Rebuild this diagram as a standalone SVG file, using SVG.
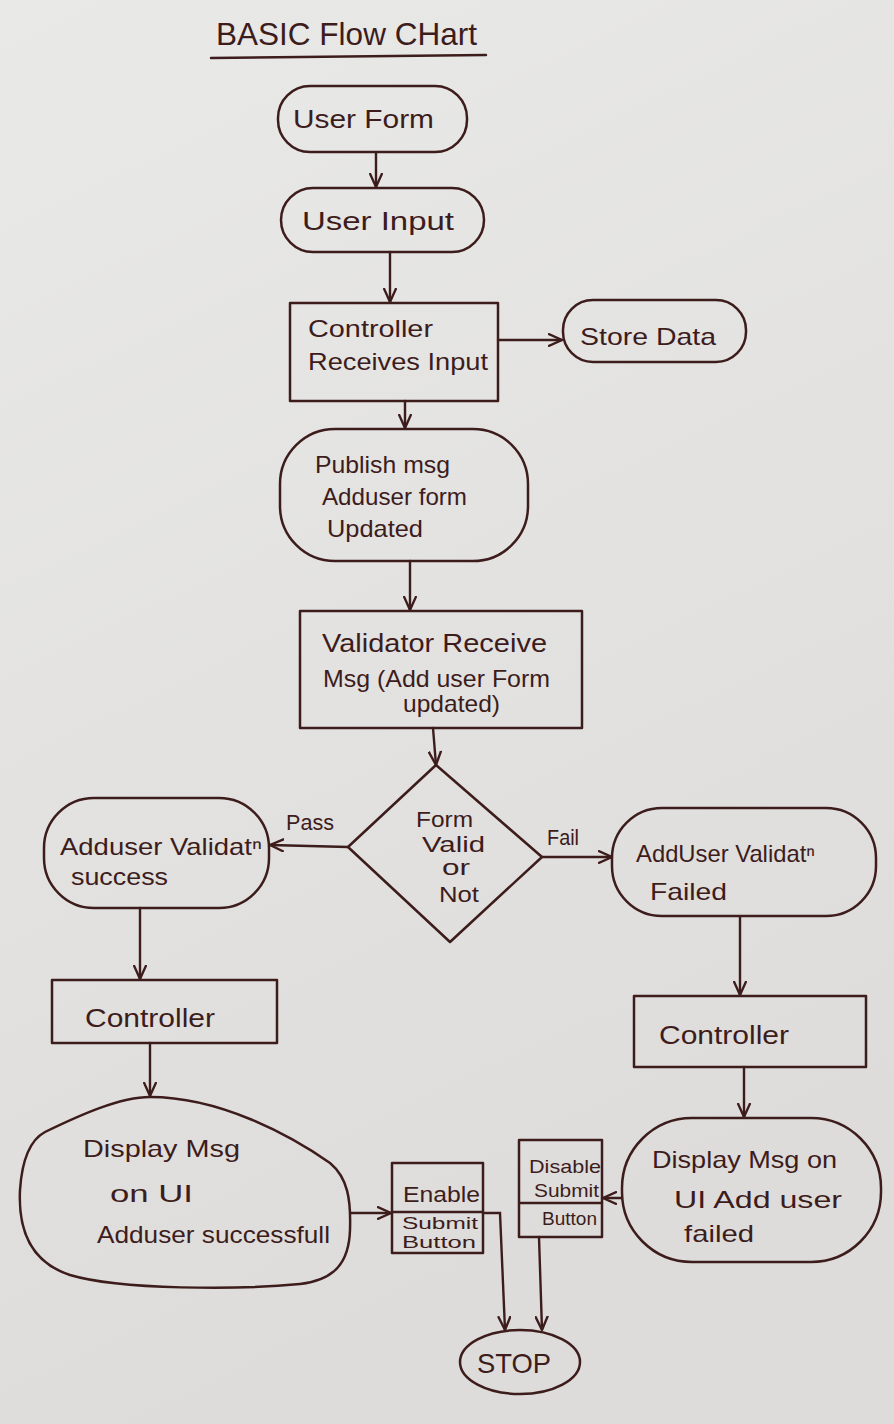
<svg xmlns="http://www.w3.org/2000/svg" width="894" height="1424" viewBox="0 0 894 1424">
<defs>
<linearGradient id="paper" x1="0" y1="0" x2="0.3" y2="1">
<stop offset="0" stop-color="#e9e9e7"/>
<stop offset="1" stop-color="#dddcda"/>
</linearGradient>
<marker id="arr" viewBox="0 0 10 10" refX="10" refY="5" markerWidth="14" markerHeight="14" markerUnits="userSpaceOnUse" orient="auto">
<path d="M0,0.5 L10,5 L0,9.5" fill="none" stroke="#3d1c1c" stroke-width="1.7" stroke-linejoin="miter"/>
</marker>
</defs>
<style>
.s{fill:none;stroke:#3d1c1c;stroke-width:2.5;stroke-linejoin:round;stroke-linecap:round}
.c{fill:none;stroke:#3d1c1c;stroke-width:2.4;stroke-linecap:round;marker-end:url(#arr)}
.l{fill:none;stroke:#3d1c1c;stroke-width:2.4;stroke-linecap:round}
text{font-family:"Liberation Sans","DejaVu Sans",sans-serif;fill:#3d1c1c}
.t24{font-size:24px}
.t26{font-size:26px}
.t22{font-size:22px}
.t19{font-size:19px}
.t16{font-size:16px}
</style>
<rect x="0" y="0" width="894" height="1424" fill="url(#paper)"/>

<g id="title">
<text x="216" y="45" font-size="32" textLength="261" lengthAdjust="spacingAndGlyphs">BASIC Flow CHart</text>
<path class="l" d="M211,58 L486,55"/>
</g>

<g id="connectors">
<path class="c" d="M376,153 L376,187"/>
<path class="c" d="M390,252 L390,302"/>
<path class="c" d="M498,340 L562,340"/>
<path class="c" d="M405,401 L405,428"/>
<path class="c" d="M410,561 L410,610"/>
<path class="c" d="M433,728 L436,765"/>
<path class="c" d="M348,847 L270,845"/>
<path class="c" d="M542,857 L612,857"/>
<path class="c" d="M140,908 L140,979"/>
<path class="c" d="M150,1043 L150,1096"/>
<path class="c" d="M350,1213 L391,1213"/>
<path class="c" d="M483,1213 L500,1213 L505,1330"/>
<path class="c" d="M740,917 L740,995"/>
<path class="c" d="M744,1067 L744,1117"/>
<path class="c" d="M622,1198 L603,1198"/>
<path class="c" d="M539,1237 L542,1330"/>
<text class="t22" x="286" y="830" textLength="48" lengthAdjust="spacingAndGlyphs">Pass</text>
<text class="t22" x="547" y="845" textLength="32" lengthAdjust="spacingAndGlyphs">Fail</text>
</g>

<g id="user-form">
<rect class="s" x="278" y="86" width="189" height="66" rx="32"/>
<text class="t26" x="293" y="128" textLength="141" lengthAdjust="spacingAndGlyphs">User Form</text>
</g>

<g id="user-input">
<rect class="s" x="281" y="188" width="203" height="64" rx="32"/>
<text class="t26" x="302" y="230" textLength="152" lengthAdjust="spacingAndGlyphs">User Input</text>
</g>

<g id="controller-receives">
<rect class="s" x="290" y="303" width="208" height="98"/>
<text class="t24" x="308" y="337" textLength="125" lengthAdjust="spacingAndGlyphs">Controller</text>
<text class="t24" x="308" y="370" textLength="180" lengthAdjust="spacingAndGlyphs">Receives Input</text>
</g>

<g id="store-data">
<rect class="s" x="563" y="300" width="183" height="62" rx="30"/>
<text class="t24" x="580" y="345" textLength="136" lengthAdjust="spacingAndGlyphs">Store Data</text>
</g>

<g id="publish-msg">
<rect class="s" x="280" y="429" width="248" height="132" rx="55"/>
<text class="t24" x="315" y="473" textLength="135" lengthAdjust="spacingAndGlyphs">Publish msg</text>
<text class="t24" x="322" y="505" textLength="145" lengthAdjust="spacingAndGlyphs">Adduser form</text>
<text class="t24" x="327" y="537" textLength="96" lengthAdjust="spacingAndGlyphs">Updated</text>
</g>

<g id="validator">
<rect class="s" x="300" y="611" width="282" height="117"/>
<text class="t26" x="322" y="652" textLength="225" lengthAdjust="spacingAndGlyphs">Validator Receive</text>
<text class="t24" x="323" y="687" textLength="227" lengthAdjust="spacingAndGlyphs">Msg (Add user Form</text>
<text class="t24" x="403" y="712" textLength="97" lengthAdjust="spacingAndGlyphs">updated)</text>
</g>

<g id="decision">
<polygon class="s" points="436,765 542,857 450,942 348,847"/>
<text class="t22" x="416" y="827" textLength="57" lengthAdjust="spacingAndGlyphs">Form</text>
<text class="t22" x="422" y="852" textLength="63" lengthAdjust="spacingAndGlyphs">Valid</text>
<text class="t22" x="442" y="875" textLength="28" lengthAdjust="spacingAndGlyphs">or</text>
<text class="t22" x="439" y="902" textLength="40" lengthAdjust="spacingAndGlyphs">Not</text>
</g>

<g id="validation-success">
<rect class="s" x="44" y="798" width="225" height="110" rx="50"/>
<text class="t24" x="60" y="855" textLength="202" lengthAdjust="spacingAndGlyphs">Adduser Validatⁿ</text>
<text class="t24" x="71" y="885" textLength="97" lengthAdjust="spacingAndGlyphs">success</text>
</g>

<g id="validation-failed">
<rect class="s" x="612" y="808" width="264" height="108" rx="50"/>
<text class="t24" x="636" y="862" textLength="179" lengthAdjust="spacingAndGlyphs">AddUser Validatⁿ</text>
<text class="t24" x="650" y="900" textLength="77" lengthAdjust="spacingAndGlyphs">Failed</text>
</g>

<g id="controller-left">
<rect class="s" x="52" y="980" width="225" height="63"/>
<text class="t26" x="85" y="1027" textLength="130" lengthAdjust="spacingAndGlyphs">Controller</text>
</g>

<g id="controller-right">
<rect class="s" x="634" y="996" width="232" height="71"/>
<text class="t26" x="659" y="1044" textLength="130" lengthAdjust="spacingAndGlyphs">Controller</text>
</g>

<g id="display-success">
<path class="s" d="M150,1097 C220,1097 290,1135 330,1163 C348,1178 351,1200 350,1230 C349,1262 335,1280 300,1284 C240,1290 120,1290 70,1275 C30,1262 18,1230 20,1190 C22,1160 30,1140 45,1132 C80,1115 120,1097 150,1097 Z"/>
<text class="t24" x="83" y="1157" textLength="157" lengthAdjust="spacingAndGlyphs">Display Msg</text>
<text class="t24" x="110" y="1202" textLength="83" lengthAdjust="spacingAndGlyphs">on UI</text>
<text class="t24" x="97" y="1243" textLength="233" lengthAdjust="spacingAndGlyphs">Adduser successfull</text>
</g>

<g id="display-failed">
<rect class="s" x="622" y="1118" width="259" height="144" rx="70"/>
<text class="t24" x="652" y="1168" textLength="185" lengthAdjust="spacingAndGlyphs">Display Msg on</text>
<text class="t24" x="674" y="1208" textLength="168" lengthAdjust="spacingAndGlyphs">UI Add user</text>
<text class="t24" x="684" y="1242" textLength="70" lengthAdjust="spacingAndGlyphs">failed</text>
</g>

<g id="enable-button">
<rect class="s" x="392" y="1163" width="91" height="90"/>
<path class="l" d="M392,1212 L483,1212"/>
<text class="t22" x="403" y="1202" textLength="77" lengthAdjust="spacingAndGlyphs">Enable</text>
<text class="t16" x="402" y="1229" textLength="76" lengthAdjust="spacingAndGlyphs">Submit</text>
<text class="t16" x="402" y="1248" textLength="74" lengthAdjust="spacingAndGlyphs">Button</text>
</g>

<g id="disable-button">
<rect class="s" x="519" y="1140" width="83" height="97"/>
<path class="l" d="M519,1203 L602,1203"/>
<text class="t19" x="529" y="1173" textLength="72" lengthAdjust="spacingAndGlyphs">Disable</text>
<text class="t19" x="534" y="1197" textLength="65" lengthAdjust="spacingAndGlyphs">Submit</text>
<text class="t19" x="542" y="1225" textLength="55" lengthAdjust="spacingAndGlyphs">Button</text>
</g>

<g id="stop">
<ellipse class="s" cx="520" cy="1362" rx="60" ry="32"/>
<text x="477" y="1373" font-size="28" textLength="74" lengthAdjust="spacingAndGlyphs">STOP</text>
</g>
</svg>
